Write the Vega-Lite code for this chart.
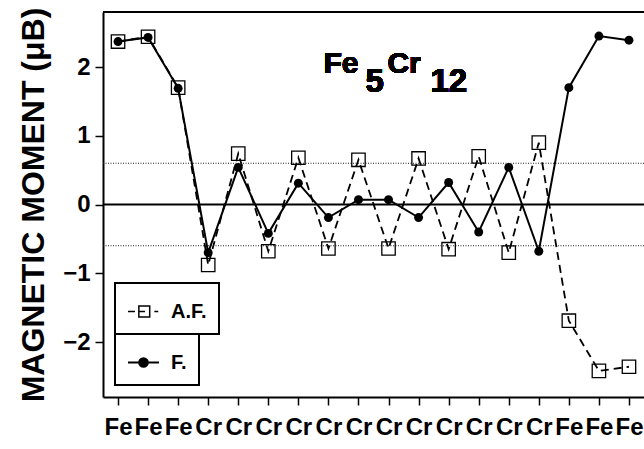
{
  "$schema": "https://vega.github.io/schema/vega-lite/v6.json",
  "width": 541,
  "height": 385,
  "autosize": {"type": "none"},
  "padding": {"left": 103, "top": 12, "right": 0, "bottom": 52},
  "background": "white",
  "config": {
    "view": {"stroke": null},
    "font": "Liberation Sans",
    "legend": {"strokeWidth": 2, "layout": {"bottom-left": {"direction": "vertical", "margin": 0}}}
  },
  "data": {
    "values": [
      {"site": "Fe1", "series": "A.F.", "value": 2.37},
      {"site": "Fe2", "series": "A.F.", "value": 2.44},
      {"site": "Fe3", "series": "A.F.", "value": 1.70},
      {"site": "Cr1", "series": "A.F.", "value": -0.88},
      {"site": "Cr2", "series": "A.F.", "value": 0.74},
      {"site": "Cr3", "series": "A.F.", "value": -0.68},
      {"site": "Cr4", "series": "A.F.", "value": 0.68},
      {"site": "Cr5", "series": "A.F.", "value": -0.64},
      {"site": "Cr6", "series": "A.F.", "value": 0.65},
      {"site": "Cr7", "series": "A.F.", "value": -0.64},
      {"site": "Cr8", "series": "A.F.", "value": 0.67},
      {"site": "Cr9", "series": "A.F.", "value": -0.65},
      {"site": "Cr10", "series": "A.F.", "value": 0.70},
      {"site": "Cr11", "series": "A.F.", "value": -0.70},
      {"site": "Cr12", "series": "A.F.", "value": 0.90},
      {"site": "Fe4", "series": "A.F.", "value": -1.69},
      {"site": "Fe5", "series": "A.F.", "value": -2.42},
      {"site": "Fe6", "series": "A.F.", "value": -2.36},
      {"site": "Fe1", "series": "F.", "value": 2.37},
      {"site": "Fe2", "series": "F.", "value": 2.43},
      {"site": "Fe3", "series": "F.", "value": 1.69},
      {"site": "Cr1", "series": "F.", "value": -0.70},
      {"site": "Cr2", "series": "F.", "value": 0.54},
      {"site": "Cr3", "series": "F.", "value": -0.42},
      {"site": "Cr4", "series": "F.", "value": 0.31},
      {"site": "Cr5", "series": "F.", "value": -0.19},
      {"site": "Cr6", "series": "F.", "value": 0.07},
      {"site": "Cr7", "series": "F.", "value": 0.07},
      {"site": "Cr8", "series": "F.", "value": -0.19},
      {"site": "Cr9", "series": "F.", "value": 0.32},
      {"site": "Cr10", "series": "F.", "value": -0.40},
      {"site": "Cr11", "series": "F.", "value": 0.54},
      {"site": "Cr12", "series": "F.", "value": -0.68},
      {"site": "Fe4", "series": "F.", "value": 1.70},
      {"site": "Fe5", "series": "F.", "value": 2.45},
      {"site": "Fe6", "series": "F.", "value": 2.39}
    ]
  },
  "resolve": {"scale": {"color": "independent"}},
  "layer": [
    {
      "transform": [{"filter": "datum.series === 'A.F.'"}],
      "mark": {"type": "line", "stroke": "black", "strokeWidth": 1.8, "strokeDash": [8, 5]},
      "encoding": {
        "x": {
          "field": "site", "type": "ordinal",
          "scale": {"type": "point", "padding": 0.5, "domain": ["Fe1","Fe2","Fe3","Cr1","Cr2","Cr3","Cr4","Cr5","Cr6","Cr7","Cr8","Cr9","Cr10","Cr11","Cr12","Fe4","Fe5","Fe6"]},
          "axis": {
            "title": null, "labelExpr": "substring(datum.label, 0, 2)", "labelAngle": 0, "labelOverlap": false,
            "labelFont": "Liberation Sans", "labelFontWeight": "bold", "labelFontSize": 24, "labelColor": "black",
            "labelPadding": 10, "domainColor": "black", "domainWidth": 2, "tickColor": "black", "tickWidth": 1.5, "tickSize": 8, "grid": false
          }
        },
        "y": {
          "field": "value", "type": "quantitative",
          "scale": {"domain": [-2.8, 2.8], "nice": false, "zero": false},
          "axis": {
            "title": "MAGNETIC MOMENT (μB)", "titleFont": "Liberation Sans", "titleFontWeight": "bold", "titleFontSize": 32, "titleColor": "black", "titlePadding": 12,
            "values": [-2, -1, 0, 1, 2], "format": "d", "labelFont": "Liberation Sans", "labelFontWeight": "bold", "labelFontSize": 24, "labelColor": "black", "labelPadding": 5,
            "domainColor": "black", "domainWidth": 2, "tickColor": "black", "tickWidth": 1.5, "tickSize": 8, "grid": false
          }
        }
      }
    },
    {
      "data": {"values": [{"level": 0.6}, {"level": -0.6}]},
      "mark": {"type": "rule", "stroke": "#222", "strokeWidth": 1, "strokeDash": [1, 1.5]},
      "encoding": {"y": {"field": "level", "type": "quantitative"}}
    },
    {
      "data": {"values": [{"level": 0}]},
      "mark": {"type": "rule", "stroke": "black", "strokeWidth": 2},
      "encoding": {"y": {"field": "level", "type": "quantitative"}}
    },
    {
      "data": {"values": [{"level": 2.8}]},
      "mark": {"type": "rule", "stroke": "black", "strokeWidth": 2},
      "encoding": {"y": {"field": "level", "type": "quantitative"}}
    },
    {
      "transform": [{"filter": "datum.series === 'A.F.'"}],
      "mark": {"type": "point", "shape": "square", "filled": false, "size": 180, "strokeWidth": 1.3, "opacity": 1},
      "encoding": {
        "x": {"field": "site", "type": "ordinal"},
        "y": {"field": "value", "type": "quantitative"},
        "color": {
          "field": "series", "type": "nominal", "scale": {"range": ["black"]},
          "legend": {
            "title": null, "orient": "bottom-left", "offset": 12, "padding": 12,
            "strokeColor": "black",
            "symbolType": "M-1,0H-0.55M-0.3,-0.35H0.4V0.35H-0.3ZM-0.3,0H0.1M0.7,0H0.95",
            "symbolSize": 961, "symbolStrokeWidth": 1.5, "symbolFillColor": "transparent", "symbolOpacity": 1,
            "labelFont": "Liberation Sans", "labelFontWeight": "bold", "labelFontSize": 20, "labelColor": "black", "labelOffset": 11
          }
        }
      }
    },
    {
      "transform": [{"filter": "datum.series === 'F.'"}],
      "mark": {"type": "line", "stroke": "black", "strokeWidth": 2},
      "encoding": {
        "x": {"field": "site", "type": "ordinal"},
        "y": {"field": "value", "type": "quantitative"}
      }
    },
    {
      "transform": [{"filter": "datum.series === 'F.'"}],
      "mark": {"type": "point", "shape": "circle", "filled": true, "size": 80, "opacity": 1},
      "encoding": {
        "x": {"field": "site", "type": "ordinal"},
        "y": {"field": "value", "type": "quantitative"},
        "color": {
          "field": "series", "type": "nominal", "scale": {"range": ["black"]},
          "legend": {
            "title": null, "orient": "bottom-left", "offset": 12, "padding": 12,
            "strokeColor": "black",
            "symbolType": "M-1,0H1M-0.28,0A0.28,0.28,0,1,1,0.28,0A0.28,0.28,0,1,1,-0.28,0Z",
            "symbolSize": 961, "symbolStrokeWidth": 2, "symbolStrokeColor": "black", "symbolOpacity": 1,
            "labelFont": "Liberation Sans", "labelFontWeight": "bold", "labelFontSize": 20, "labelColor": "black", "labelOffset": 11
          }
        }
      }
    },
    {
      "mark": {"type": "text", "text": "Fe", "font": "Liberation Sans", "fontWeight": "bold", "fontSize": 30, "align": "left", "baseline": "alphabetic", "dx": -5, "color": "black"},
      "encoding": {"x": {"datum": "Cr5", "type": "ordinal"}, "y": {"datum": 1.913, "type": "quantitative"}}
    },
    {
      "mark": {"type": "text", "text": "5", "font": "Liberation Sans", "fontWeight": "bold", "fontSize": 33, "align": "left", "baseline": "alphabetic", "dx": 37, "dy": 19, "color": "black"},
      "encoding": {"x": {"datum": "Cr5", "type": "ordinal"}, "y": {"datum": 1.913, "type": "quantitative"}}
    },
    {
      "mark": {"type": "text", "text": "Cr", "font": "Liberation Sans", "fontWeight": "bold", "fontSize": 30, "align": "left", "baseline": "alphabetic", "dx": 59, "color": "black"},
      "encoding": {"x": {"datum": "Cr5", "type": "ordinal"}, "y": {"datum": 1.913, "type": "quantitative"}}
    },
    {
      "mark": {"type": "text", "text": "12", "font": "Liberation Sans", "fontWeight": "bold", "fontSize": 33, "align": "left", "baseline": "alphabetic", "dx": 102, "dy": 19, "color": "black"},
      "encoding": {"x": {"datum": "Cr5", "type": "ordinal"}, "y": {"datum": 1.913, "type": "quantitative"}}
    }
  ]
}
